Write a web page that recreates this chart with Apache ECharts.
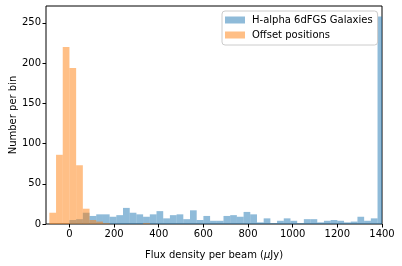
<!DOCTYPE html>
<html>
<head>
<meta charset="utf-8">
<script src="https://cdn.jsdelivr.net/npm/echarts@6/dist/echarts.min.js"></script>
<style>html,body{margin:0;padding:0;background:#fff}#c{width:402px;height:266px}</style>
</head>
<body>
<div id="c"></div>
<script>
// Histogram bins (width 30 µJy)
const binWidth = 30;
const blueBinStart = 0;
const orangeBinStart = -90;
const blueCounts = [5,6,14,10,12,12,9,11,20,14,12,9,12,16,7,11,12,6,17,5,10,4,4,10,11,9,15,12,2,7,1,4,7,4,1,6,6,2,4,5,4,2,3,9,4,7,258];
const orangeCounts = [14,86,220,194,73,19,5,3,1,0,0,0,0,0,1];
const seriesNames = ['H-alpha 6dFGS Galaxies', 'Offset positions'];
const xTicks = [0,200,400,600,800,1000,1200,1400];
const yTicks = [0,50,100,150,200,250];
const X_MIN = -105, X_MAX = 1400, Y_MAX = 270.9;

function toBins(start, counts) {
  return counts.map((c, i) => [start + i * binWidth, start + (i + 1) * binWidth, c]);
}
function makeRender(color) {
  return function (params, api) {
    const x0 = Math.max(api.value(0), X_MIN);
    const x1 = Math.min(api.value(1), X_MAX);
    const c = api.value(2);
    const p0 = api.coord([x0, c]);
    const p1 = api.coord([x1, 0]);
    return {type: 'rect', shape: {x: p0[0], y: p0[1], width: p1[0] - p0[0], height: p1[1] - p0[1]}, style: {fill: color}};
  };
}
const blueColor = 'rgba(31,119,180,0.5)';
const orangeColor = 'rgba(255,127,14,0.5)';
const font = 'DejaVu Sans';
const plain = v => String(v);
const chart = echarts.init(document.getElementById('c'), null, {renderer: 'canvas'});
chart.setOption({
  animation: false,
  backgroundColor: '#fff',
  grid: {left: 46, right: 20, top: 6, bottom: 42, show: true, borderColor: '#000', borderWidth: 1, backgroundColor: '#fff', containLabel: false, outerBoundsMode: 'none'},
  legend: {
    orient: 'vertical', left: 222, top: 11, data: seriesNames,
    itemWidth: 20, itemHeight: 7, itemGap: 3, icon: 'rect',
    backgroundColor: 'rgba(255,255,255,0.8)', borderColor: '#cccccc', borderWidth: 1, borderRadius: 3,
    padding: [3, 5, 4, 3],
    textStyle: {fontFamily: font, fontSize: 10, color: '#000', lineHeight: 12, padding: [0, 0, 0, 2]}
  },
  xAxis: {
    type: 'value', min: X_MIN, max: X_MAX,
    splitLine: {show: false},
    axisLine: {show: false, onZero: false},
    axisTick: {show: true, length: 3.5, lineStyle: {color: '#000'}, customValues: xTicks},
    axisLabel: {customValues: xTicks, formatter: plain, fontFamily: font, fontSize: 10, color: '#000', margin: 5},
    name: 'Flux density per beam ({i|μ}Jy)', nameLocation: 'middle', nameGap: 26, nameMoveOverlap: false,
    nameTextStyle: {fontFamily: font, fontSize: 10, color: '#000', rich: {i: {fontFamily: font, fontSize: 10, fontStyle: 'italic', color: '#000'}}}
  },
  yAxis: {
    type: 'value', min: 0, max: Y_MAX,
    splitLine: {show: false},
    axisLine: {show: false, onZero: false},
    axisTick: {show: true, length: 3.5, lineStyle: {color: '#000'}, customValues: yTicks},
    axisLabel: {customValues: yTicks, formatter: plain, fontFamily: font, fontSize: 10, color: '#000', margin: 5},
    name: 'Number per bin', nameLocation: 'middle', nameGap: 28, nameRotate: 90, nameMoveOverlap: false,
    nameTextStyle: {fontFamily: font, fontSize: 10, color: '#000'}
  },
  series: [
    {name: seriesNames[0], type: 'custom', renderItem: makeRender(blueColor), itemStyle: {color: blueColor}, encode: {x: [0, 1], y: 2}, data: toBins(blueBinStart, blueCounts), clip: true},
    {name: seriesNames[1], type: 'custom', renderItem: makeRender(orangeColor), itemStyle: {color: orangeColor}, encode: {x: [0, 1], y: 2}, data: toBins(orangeBinStart, orangeCounts), clip: true}
  ]
});
</script>
</body>
</html>
